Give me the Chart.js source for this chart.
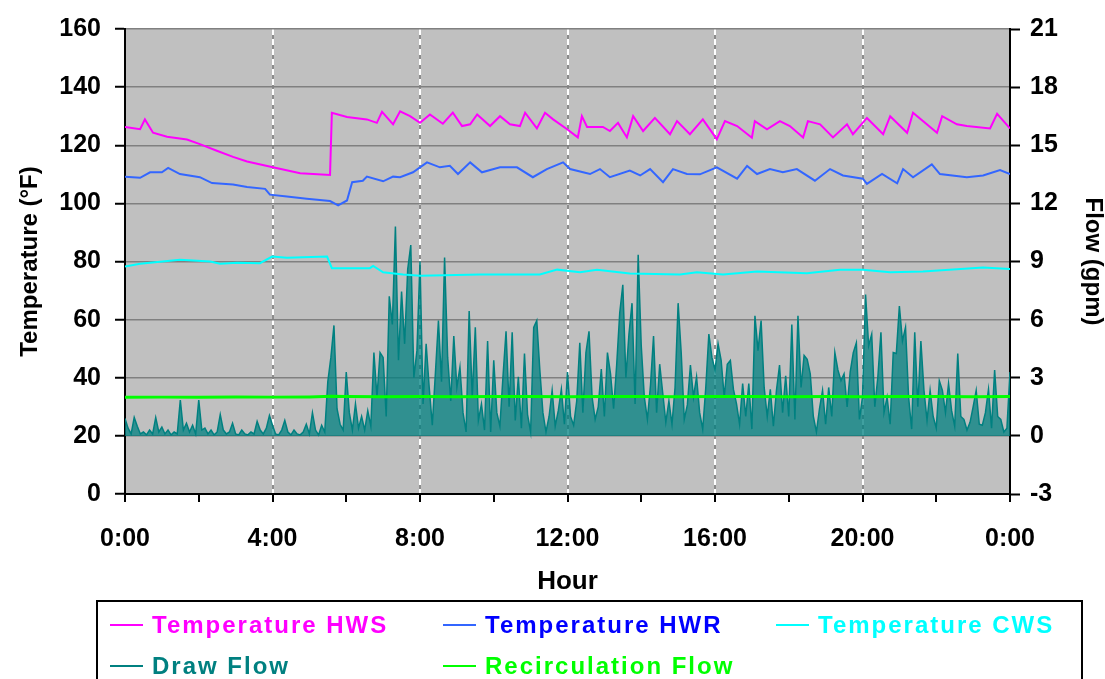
<!DOCTYPE html>
<html>
<head>
<meta charset="utf-8">
<script src="https://cdn.jsdelivr.net/npm/chart.js@4.4.0/dist/chart.umd.min.js"></script>
<style>
  html, body { margin: 0; padding: 0; background: #fff; }
</style>
</head>
<body>
<canvas id="tempChart" width="1105" height="679"></canvas>
<script>
// x axis labels, one per 4 hours
const hourLabels = ["0:00", "4:00", "8:00", "12:00", "16:00", "20:00", "0:00"];

const seriesNames = ["Temperature HWS", "Temperature HWR", "Temperature CWS", "Draw Flow", "Recirculation Flow"];
const lineColors = ["#ff00ff", "#3366ff", "#00ffff", "#008080", "#00ff00"];
const legendTextColors = ["#ff00ff", "#0000ff", "#00ffff", "#008080", "#00ff00"];

// Temperature HWS (deg F)
const hwsHours = [0, 0.41, 0.54, 0.76, 1.14, 1.68, 2.03, 2.49, 2.93, 3.31, 4.01, 4.75, 5.56, 5.61, 6.02, 6.56, 6.83, 6.97, 7.27, 7.46,
  7.73, 8.0, 8.27, 8.62, 8.89, 9.14, 9.36, 9.55, 9.9, 10.17, 10.44, 10.71, 10.85, 11.17, 11.39, 11.61, 11.99, 12.28, 12.39, 12.53,
  12.96, 13.15, 13.37, 13.61, 13.78, 14.05, 14.37, 14.78, 14.97, 15.32, 15.67, 16.05, 16.27, 16.6, 17.0, 17.08, 17.41, 17.76, 18.03, 18.39,
  18.52, 18.85, 19.2, 19.58, 19.74, 20.12, 20.56, 20.75, 21.21, 21.37, 22.02, 22.16, 22.56, 22.83, 23.46, 23.65, 24];
const hwsTemps = [126.3, 125.5, 128.9, 124.3, 122.9, 122, 120.4, 118.1, 116, 114.4, 112.4, 110.4, 109.8, 131.2, 129.7, 128.9, 127.7, 131.5, 127.2, 131.7,
  130, 127.7, 130.6, 127.4, 131.2, 126.6, 127.2, 130.6, 126.6, 130, 127.2, 126.6, 131.2, 125.8, 131.2, 128.9, 125.5, 122.7, 130, 126.3,
  126.3, 124.9, 127.7, 122.7, 130, 124.9, 129.4, 123.8, 128.3, 123.8, 128.9, 122.1, 128.3, 126.6, 122.6, 128.3, 125.5, 128.3, 126.6, 122.7,
  128.3, 127.2, 122.7, 127.2, 123.8, 129.4, 123.8, 130, 124.3, 131.2, 124.3, 130, 127.2, 126.6, 125.8, 130.8, 125.8];

// Temperature HWR (deg F)
const hwrHours = [0, 0.41, 0.68, 1.0, 1.17, 1.49, 2.03, 2.36, 2.93, 3.31, 3.8, 3.93, 4.39, 4.93, 5.56, 5.78, 6.02, 6.16, 6.45, 6.56,
  7.0, 7.27, 7.46, 7.81, 8.19, 8.54, 8.81, 9.03, 9.36, 9.68, 10.17, 10.63, 11.06, 11.44, 11.88, 12.07, 12.61, 12.88, 13.15, 13.69,
  13.97, 14.24, 14.59, 14.86, 15.24, 15.59, 16.05, 16.6, 16.87, 17.14, 17.49, 17.84, 18.22, 18.71, 19.12, 19.47, 20.01, 20.12, 20.53, 20.94,
  21.1, 21.37, 21.88, 22.1, 22.83, 23.27, 23.73, 24];
const hwrTemps = [109.2, 108.8, 110.7, 110.7, 112.2, 110.1, 109, 107, 106.5, 105.6, 105, 103, 102.4, 101.6, 100.8, 99.3, 101, 107.3, 107.8, 109.2,
  107.6, 109.2, 109, 110.7, 114.1, 112.4, 112.9, 110.1, 114.1, 110.7, 112.4, 112.4, 109, 111.8, 114.1, 111.8, 110.1, 111.8, 109, 111.3,
  109.6, 111.8, 107.3, 111.8, 110.1, 110, 112.4, 108.5, 112.9, 110.1, 111.8, 110.7, 111.8, 107.8, 111.8, 109.6, 108.5, 106.7, 110.1, 106.9,
  111.8, 109, 113.4, 110.1, 109, 109.6, 111.5, 110.1];

// Temperature CWS (deg F)
const cwsHours = [0, 0.41, 1.49, 2.31, 2.58, 3.04, 3.66, 3.99, 4.39, 5.48, 5.61, 6.64, 6.73, 7.0, 7.54, 8.0, 9.63, 11.25, 11.72, 12.34,
  12.8, 13.69, 15.05, 15.51, 16.22, 17.14, 18.49, 19.39, 20.01, 20.75, 21.64, 23.27, 24];
const cwsTemps = [78.3, 79.2, 80.6, 80, 79.2, 79.6, 79.4, 81.7, 81.3, 81.7, 77.7, 77.7, 78.5, 76.3, 75.5, 75.1, 75.5, 75.5, 77.2, 76.3,
  77.2, 75.9, 75.5, 76.3, 75.5, 76.6, 76, 77.2, 77.2, 76.3, 76.6, 77.9, 77.4];

// Draw Flow (gpm), one reading every 5 minutes from 0:00 to 24:00
const drawFlow = [
  0.9, 0.4, 0.1, 0.95, 0.5, 0.1, 0.2, 0.05, 0.3, 0.1,
  0.95, 0.2, 0.45, 0.1, 0.3, 0.05, 0.2, 0.1, 1.85, 0.3,
  0.65, 0.2, 0.55, 0.1, 1.85, 0.3, 0.4, 0.1, 0.3, 0.05,
  0.2, 1.1, 0.3, 0.1, 0.2, 0.65, 0.1, 0.05, 0.3, 0.1,
  0.05, 0.2, 0.1, 0.75, 0.3, 0.1, 0.4, 1.05, 0.55, 0.1,
  0.05, 0.3, 0.8, 0.2, 0.05, 0.3, 0.1, 0.05, 0.2, 0.6,
  0.1, 1.2, 0.3, 0.05, 0.55, 0.2, 2.8, 4.05, 5.7, 1.4,
  0.6, 0.3, 3.3, 1.2, 0.3, 1.65, 0.4, 1.0, 0.3, 1.3,
  0.5, 4.3, 2.0, 4.3, 4.05, 1.0, 7.2, 5.75, 10.8, 3.9,
  7.45, 4.75, 8.6, 9.85, 3.0, 4.4, 9.0, 1.65, 4.75, 2.5,
  0.55, 3.2, 5.95, 2.8, 9.2, 4.05, 1.8, 5.15, 2.5, 3.55,
  1.2, 0.2, 6.45, 2.0, 5.6, 0.8, 1.65, 0.3, 4.9, 0.2,
  3.9, 1.2, 0.5, 3.05, 5.4, 1.5, 5.35, 0.8, 3.05, 0.4,
  4.25, 1.1, 0.2, 5.6, 5.95, 3.4, 1.2, 0.2, 1.0, 2.35,
  0.5, 1.3, 2.4, 0.6, 3.3, 1.0, 0.55, 1.8, 4.8, 1.2,
  4.3, 5.4, 2.0, 0.85, 1.5, 3.45, 1.0, 4.3, 3.2, 1.4,
  3.65, 6.35, 7.8, 3.0, 5.25, 6.85, 1.65, 9.35, 4.65, 2.0,
  0.85, 2.6, 5.15, 1.2, 3.7, 2.2, 0.7, 1.8, 0.6, 2.5,
  6.85, 4.3, 0.85, 1.6, 3.65, 2.0, 3.05, 1.2, 0.35, 2.5,
  5.25, 4.05, 3.4, 4.75, 3.9, 2.0, 3.7, 3.9, 2.4, 1.65,
  0.6, 2.7, 1.0, 2.7, 0.35, 6.2, 4.4, 5.95, 2.5, 1.0,
  2.4, 0.5, 2.35, 3.65, 1.2, 3.1, 1.0, 5.75, 0.85, 6.2,
  2.5, 4.15, 3.95, 3.2, 1.0, 0.2, 1.4, 2.35, 0.6, 2.5,
  1.0, 4.3, 3.4, 2.85, 3.2, 1.5, 3.3, 4.3, 4.8, 0.85,
  2.0, 7.3, 4.65, 5.25, 1.5, 3.05, 5.35, 1.2, 2.0, 0.6,
  4.3, 4.25, 6.7, 4.9, 5.6, 2.0, 0.35, 5.35, 1.5, 4.9,
  2.35, 0.8, 2.35, 1.0, 0.4, 2.85, 2.35, 1.2, 2.7, 1.3,
  0.5, 4.25, 1.0, 0.85, 0.3, 0.7, 1.5, 2.35, 0.6, 0.55,
  1.2, 2.4, 0.4, 3.4, 1.0, 0.85, 0.2, 0.4, 3.3
];

// Recirculation Flow (gpm)
const recircHours = [0, 1, 2, 3, 4, 5, 5.6, 6, 7, 8, 9, 10, 11, 12, 13, 14, 15, 16, 17, 18, 19, 20, 21, 22, 23, 24];
const recircFlow = [1.99, 2.0, 1.99, 2.01, 2.0, 2.01, 2.04, 2.03, 2.02, 2.03, 2.02, 2.03, 2.03, 2.02, 2.03, 2.03, 2.02, 2.03, 2.03, 2.02,
  2.03, 2.02, 2.03, 2.03, 2.02, 2.03];

function toPoints(xs, ys) {
  return xs.map((x, i) => ({ x: x, y: ys[i] }));
}

const fontFamily = "'Liberation Sans', Arial, sans-serif";
Chart.defaults.font.family = fontFamily;
Chart.defaults.font.weight = "bold";
Chart.defaults.color = "#000";

// grey plot background
const plotBackground = {
  id: "plotBackground",
  beforeDraw(chart) {
    const { ctx, chartArea } = chart;
    ctx.save();
    ctx.fillStyle = "#c0c0c0";
    ctx.fillRect(chartArea.left, chartArea.top, chartArea.right - chartArea.left, chartArea.bottom - chartArea.top);
    ctx.restore();
  }
};

// boxed legend laid out in three columns, like the original
const boxedLegend = {
  id: "boxedLegend",
  afterDraw(chart) {
    const ctx = chart.ctx;
    ctx.save();
    ctx.strokeStyle = "#000";
    ctx.lineWidth = 2;
    ctx.strokeRect(97, 601, 985, 120);
    ctx.font = "bold 24px " + fontFamily;
    ctx.letterSpacing = "2px";
    ctx.textBaseline = "alphabetic";
    seriesNames.forEach((name, i) => {
      const col = i % 3;
      const row = Math.floor(i / 3);
      const x = 110 + col * 333;
      const y = 625 + row * 41;
      ctx.strokeStyle = lineColors[i];
      ctx.lineWidth = 2;
      ctx.beginPath();
      ctx.moveTo(x, y);
      ctx.lineTo(x + 33, y);
      ctx.stroke();
      ctx.fillStyle = legendTextColors[i];
      ctx.fillText(name, x + 42, y + 8);
    });
    ctx.restore();
  }
};

const isMajorHour = (c) => c.tick && c.tick.value % 4 === 0 && c.tick.value > 0 && c.tick.value < 24;

const ctx = document.getElementById("tempChart").getContext("2d");
new Chart(ctx, {
  type: "line",
  data: {
    datasets: [
      { label: seriesNames[0], data: toPoints(hwsHours, hwsTemps), borderColor: lineColors[0], borderWidth: 2, yAxisID: "y", order: 0 },
      { label: seriesNames[1], data: toPoints(hwrHours, hwrTemps), borderColor: lineColors[1], borderWidth: 2, yAxisID: "y", order: 0 },
      { label: seriesNames[2], data: toPoints(cwsHours, cwsTemps), borderColor: lineColors[2], borderWidth: 2, yAxisID: "y", order: 0 },
      {
        label: seriesNames[3],
        data: drawFlow.map((v, i) => ({ x: i * 5 / 60, y: v })),
        borderColor: lineColors[3],
        borderWidth: 1.5,
        fill: { target: "origin", above: "rgba(0,128,128,0.75)" },
        yAxisID: "y2",
        order: 1
      },
      { label: seriesNames[4], data: toPoints(recircHours, recircFlow), borderColor: lineColors[4], borderWidth: 3, yAxisID: "y2", order: 0 }
    ]
  },
  options: {
    responsive: false,
    animation: false,
    devicePixelRatio: 1,
    layout: { padding: { top: 24, bottom: 78, left: 0, right: 0 } },
    elements: { point: { radius: 0 }, line: { tension: 0 } },
    plugins: { legend: { display: false }, tooltip: { enabled: false }, filler: { propagate: false } },
    scales: {
      // solid grey under the white dashes of the hour grid
      xUnder: {
        type: "linear",
        position: "bottom",
        min: 0,
        max: 24,
        ticks: { display: false, stepSize: 4 },
        grid: { color: (c) => (isMajorHour(c) ? "#8c8c8c" : "rgba(0,0,0,0)"), lineWidth: 2, drawTicks: false },
        border: { display: false },
        afterFit: (scale) => { scale.height = 0; }
      },
      x: {
        type: "linear",
        min: 0,
        max: 24,
        ticks: {
          stepSize: 2,
          autoSkip: false,
          maxRotation: 0,
          padding: 22,
          font: { size: 25, weight: "bold" },
          callback: (value) => (value % 4 === 0 ? hourLabels[value / 4] : "")
        },
        grid: {
          color: (c) => (isMajorHour(c) ? "#ffffff" : "rgba(0,0,0,0)"),
          lineWidth: 2,
          tickColor: "#000",
          tickLength: 8,
          tickWidth: 2
        },
        border: { color: "#000", width: 2, dash: [6, 4] },
        title: { display: true, text: "Hour", color: "#000", font: { size: 26, weight: "bold", lineHeight: 1 }, padding: { top: 0, bottom: 6 } },
        afterFit: (scale) => { scale.height = 107; }
      },
      y: {
        position: "left",
        min: 0,
        max: 160,
        ticks: { stepSize: 20, padding: 14, font: { size: 25, weight: "bold" } },
        grid: { color: "#808080", lineWidth: 1.5, tickColor: "#000", tickLength: 10, tickWidth: 2 },
        border: { color: "#000", width: 2 },
        title: { display: true, text: "Temperature (°F)", color: "#000", font: { size: 24, weight: "bold", lineHeight: 1 }, padding: { top: 18, bottom: 0 } },
        afterFit: (scale) => { scale.width = 125; }
      },
      y2: {
        position: "right",
        min: -3,
        max: 21,
        ticks: { stepSize: 3, padding: 10, font: { size: 25, weight: "bold" } },
        grid: { drawOnChartArea: false, tickColor: "#000", tickLength: 10, tickWidth: 2 },
        border: { color: "#000", width: 2 },
        title: { display: true, text: "Flow (gpm)", color: "#000", font: { size: 24, weight: "bold", lineHeight: 1 }, padding: { top: 0, bottom: 0 } },
        afterFit: (scale) => { scale.width = 95; }
      }
    }
  },
  plugins: [plotBackground, boxedLegend]
});
</script>
</body>
</html>
